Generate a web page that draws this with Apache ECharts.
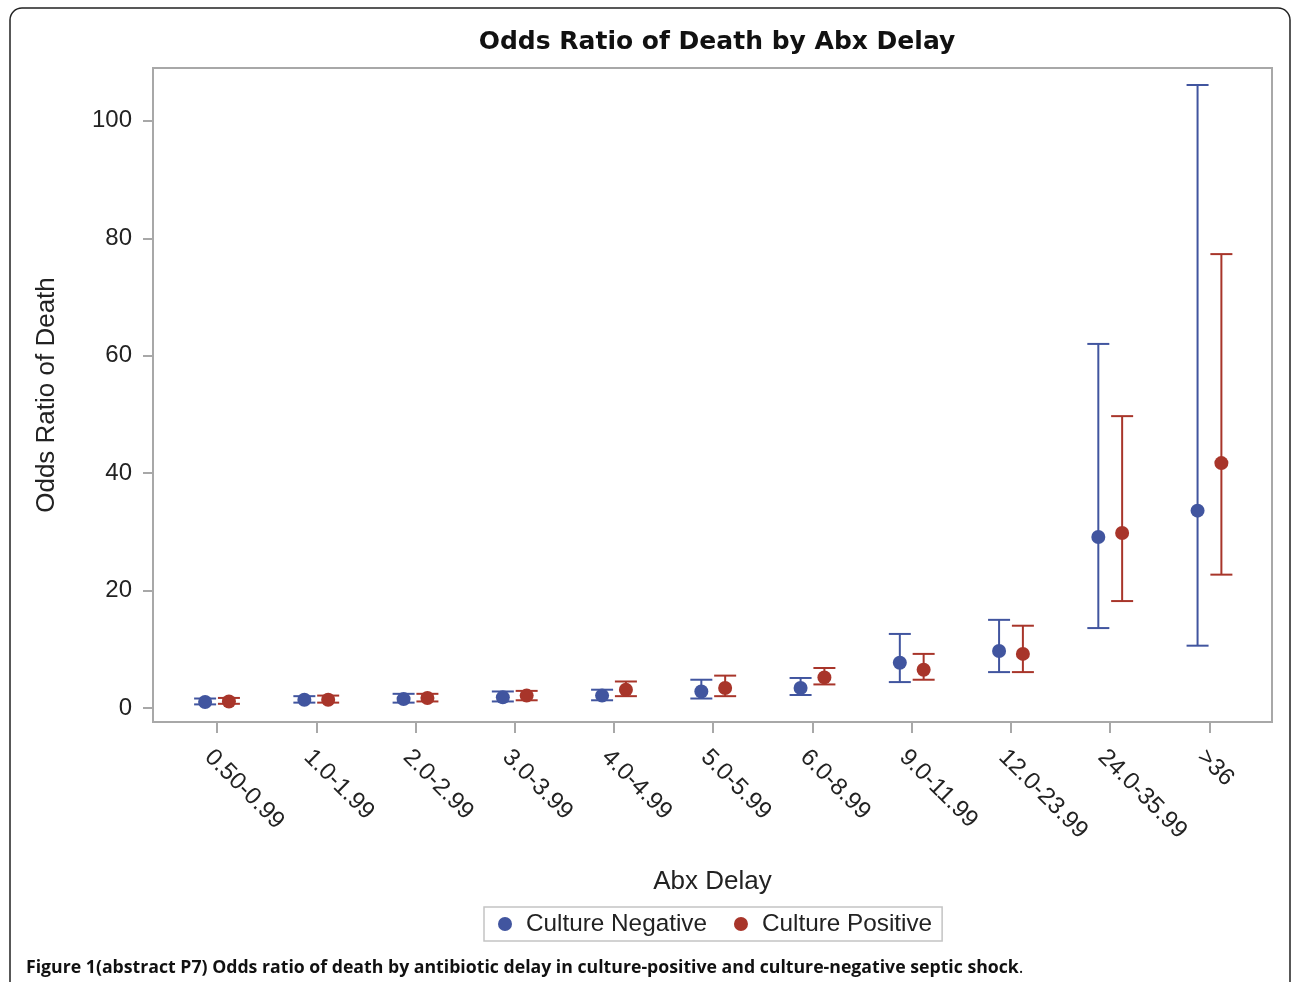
<!DOCTYPE html>
<html>
<head>
<meta charset="utf-8">
<script src="https://cdn.jsdelivr.net/npm/echarts@6/dist/echarts.min.js"></script>
<style>
  html, body { margin: 0; padding: 0; background: #fff; }
  #chart { width: 1292px; height: 982px; }
</style>
</head>
<body>
<div id="chart"></div>
<script>
// ---- data ----
const categories = ['0.50-0.99','1.0-1.99','2.0-2.99','3.0-3.99','4.0-4.99','5.0-5.99','6.0-8.99','9.0-11.99','12.0-23.99','24.0-35.99','>36'];
const negOR = [1.0, 1.4, 1.5, 1.8, 2.1, 2.8, 3.4, 7.7, 9.7, 29.1, 33.6];
const negLo = [0.6, 0.9, 0.9, 1.1, 1.3, 1.6, 2.2, 4.4, 6.1, 13.6, 10.6];
const negHi = [1.6, 2.0, 2.4, 2.8, 3.1, 4.8, 5.1, 12.6, 15.0, 62.0, 106.1];
const posOR = [1.1, 1.4, 1.7, 2.1, 3.1, 3.4, 5.2, 6.5, 9.2, 29.8, 41.7];
const posLo = [0.7, 0.9, 1.1, 1.3, 2.0, 2.0, 4.0, 4.8, 6.1, 18.2, 22.7];
const posHi = [1.7, 2.1, 2.4, 2.9, 4.5, 5.5, 6.8, 9.2, 14.0, 49.7, 77.3];
const yTicks = [0, 20, 40, 60, 80, 100];

// ---- style ----
const BLUE = '#41559f';
const RED = '#a8352a';
const OFF = 0.12;
const FONT = '"Liberation Sans", Arial, sans-serif';
const TXT = '#222';

const chart = echarts.init(document.getElementById('chart'), null, { renderer: 'canvas' });

function errRender(color, off) {
  return function (params, api) {
    const x = api.value(0) + off;
    const pLo = api.coord([x, api.value(1)]);
    const pHi = api.coord([x, api.value(2)]);
    const hw = 11;
    const st = { stroke: color, lineWidth: 2 };
    return {
      type: 'group',
      children: [
        { type: 'line', shape: { x1: pLo[0], y1: pLo[1], x2: pHi[0], y2: pHi[1] }, style: st },
        { type: 'line', shape: { x1: pHi[0] - hw, y1: pHi[1], x2: pHi[0] + hw, y2: pHi[1] }, style: st },
        { type: 'line', shape: { x1: pLo[0] - hw, y1: pLo[1], x2: pLo[0] + hw, y2: pLo[1] }, style: st }
      ]
    };
  };
}

const idx = categories.map((c, i) => i);

const option = {
  backgroundColor: '#fff',
  animation: false,
  textStyle: { fontFamily: FONT },
  title: {
    text: 'Odds Ratio of Death by Abx Delay',
    left: 712, top: 25, textAlign: 'center',
    textStyle: { fontSize: 25, fontWeight: 'bold', color: '#111', fontFamily: '"DejaVu Sans", Verdana, sans-serif' }
  },
  grid: {
    left: 153, right: 20, top: 68, bottom: 260,
    show: true, borderColor: '#a8a8a8', borderWidth: 2, backgroundColor: '#fff'
  },
  legend: {
    data: ['Culture Negative', 'Culture Positive'],
    left: 484, top: 907,
    orient: 'horizontal',
    icon: 'circle', itemWidth: 14, itemHeight: 14, itemGap: 27,
    borderColor: '#c4c4c4', borderWidth: 1.5,
    padding: [5, 10, 5, 14],
    textStyle: { fontSize: 24.3, color: TXT, fontFamily: FONT, padding: [0, 0, 0, 9] }
  },
  xAxis: {
    type: 'value',
    min: -0.645, max: 10.63,
    name: 'Abx Delay', nameLocation: 'middle', nameGap: 147,
    nameTextStyle: { fontSize: 26, color: TXT, fontFamily: FONT },
    axisLine: { show: false, onZero: false },
    splitLine: { show: false },
    axisTick: { show: true, customValues: idx, length: 11, lineStyle: { color: '#a8a8a8', width: 2 } },
    axisLabel: {
      customValues: idx, rotate: -45, margin: 23, verticalAlign: 'top',
      fontSize: 24, color: TXT, fontFamily: FONT,
      formatter: v => categories[Math.round(v)]
    }
  },
  yAxis: {
    type: 'value',
    min: -2.4, max: 109.0,
    name: 'Odds Ratio of Death', nameLocation: 'middle', nameGap: 93, nameRotate: 90,
    nameTextStyle: { fontSize: 26, color: TXT, fontFamily: FONT },
    axisLine: { show: false, onZero: false },
    splitLine: { show: false },
    axisTick: { show: true, customValues: yTicks, length: 10, lineStyle: { color: '#a8a8a8', width: 2 } },
    axisLabel: { customValues: yTicks, fontSize: 24, color: TXT, margin: 21, fontFamily: FONT }
  },
  series: [
    {
      name: 'negCI', type: 'custom', renderItem: errRender(BLUE, -OFF),
      data: idx.map(i => [i, negLo[i], negHi[i]]), z: 2
    },
    {
      name: 'posCI', type: 'custom', renderItem: errRender(RED, OFF),
      data: idx.map(i => [i, posLo[i], posHi[i]]), z: 2
    },
    {
      name: 'Culture Negative', type: 'scatter', symbol: 'circle', symbolSize: 14,
      itemStyle: { color: BLUE, opacity: 1 }, z: 3,
      data: idx.map(i => [i - OFF, negOR[i]])
    },
    {
      name: 'Culture Positive', type: 'scatter', symbol: 'circle', symbolSize: 14,
      itemStyle: { color: RED, opacity: 1 }, z: 3,
      data: idx.map(i => [i + OFF, posOR[i]])
    }
  ],
  graphic: [
    {
      type: 'rect', silent: true, z: 100,
      shape: { x: 10, y: 8, width: 1280, height: 1010, r: 12 },
      style: { fill: null, stroke: '#222', lineWidth: 1.5 }
    },
    {
      type: 'text', left: 26, top: 959, z: 100,
      style: {
        text: '{b|Figure 1(abstract P7) Odds ratio of death by antibiotic delay in culture-positive and culture-negative septic shock}{n|.}',
        rich: {
          b: { fontSize: 17.7, fontWeight: 'bold', fontFamily: '"Open Sans", sans-serif', fill: '#111' },
          n: { fontSize: 17.7, fontWeight: 'normal', fontFamily: '"Open Sans", sans-serif', fill: '#111' }
        }
      }
    }
  ]
};

chart.setOption(option);
</script>
</body>
</html>
